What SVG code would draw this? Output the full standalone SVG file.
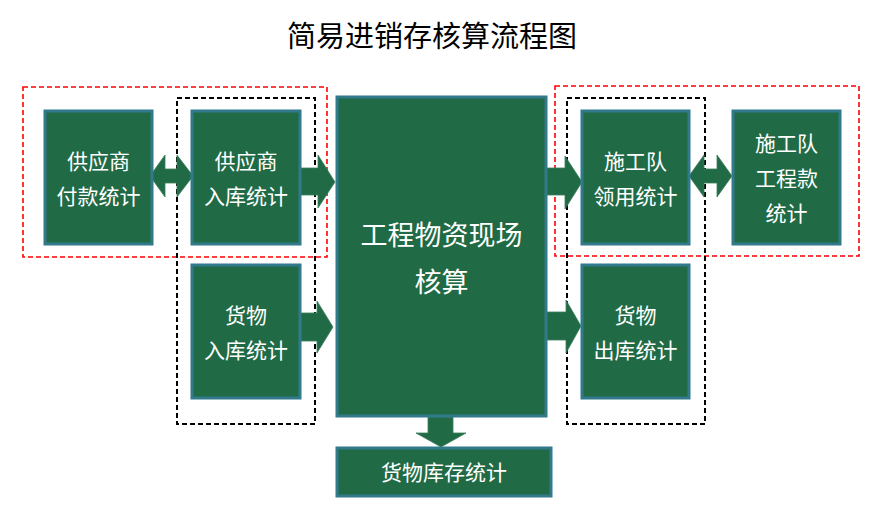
<svg xmlns="http://www.w3.org/2000/svg" width="873" height="529" viewBox="0 0 873 529">
<style>
.box{fill:#206b46;stroke:#317a8b;stroke-width:3}
.arr{fill:#206b46;stroke:#3d7f5e;stroke-width:0.8}
.t{font-family:"Microsoft YaHei","Noto Sans CJK SC",sans-serif;fill:#ffffff;text-anchor:middle}
.s{font-size:21px}
.red{fill:none;stroke:#ff0000;stroke-width:1.6;stroke-dasharray:5,3}
.blk{fill:none;stroke:#000000;stroke-width:2;stroke-dasharray:5,3}
</style>
<rect width="873" height="529" fill="#ffffff"/>
<text x="432" y="47" font-family="'Microsoft YaHei','Noto Sans CJK SC',sans-serif" font-size="29" text-anchor="middle" fill="#000000">简易进销存核算流程图</text>
<g id="groups">
<rect class="red" x="23" y="87" width="304" height="170"/>
<rect class="red" x="555" y="86" width="304" height="170"/>
<rect class="blk" x="177" y="98" width="138" height="326"/>
<rect class="blk" x="567" y="98" width="138" height="326"/>
</g>
<g id="connectors">
<path class="arr" d="M150,176 L165,155 L165,169 L177,169 L177,155 L193,176 L177,197 L177,183 L165,183 L165,197 Z"/>
<path class="arr" d="M689,176 L704,155 L704,169 L717,169 L717,155 L732,176 L717,197 L717,183 L704,183 L704,197 Z"/>
<path class="arr" d="M300,168 L318,168 L318,155 L335,182 L318,208 L318,195 L300,195 Z"/>
<path class="arr" d="M300,313 L317,313 L317,301 L333,327 L317,353 L317,341 L300,341 Z"/>
<path class="arr" d="M546,168 L565,168 L565,156 L582,182 L565,209 L565,195 L546,195 Z"/>
<path class="arr" d="M546,312 L566,312 L566,300 L581,326 L566,353 L566,340 L546,340 Z"/>
<path class="arr" d="M428,417 L453,417 L453,433 L466,433 L441,447 L416,433 L428,433 Z"/>
</g>
<g id="n1"><rect class="box" x="45" y="111" width="107" height="133"/>
<text class="t s" x="98.5" y="169">供应商</text><text class="t s" x="98.5" y="204">付款统计</text></g>
<g id="n2"><rect class="box" x="192" y="111" width="108" height="133"/>
<text class="t s" x="246" y="169">供应商</text><text class="t s" x="246" y="204">入库统计</text></g>
<g id="n3"><rect class="box" x="192" y="265" width="108" height="133"/>
<text class="t s" x="246" y="323">货物</text><text class="t s" x="246" y="358">入库统计</text></g>
<g id="n4"><rect class="box" x="337" y="97" width="209" height="319"/>
<text class="t" font-size="27" x="441.5" y="245">工程物资现场</text><text class="t" font-size="27" x="441.5" y="292">核算</text></g>
<g id="n5"><rect class="box" x="337" y="448" width="214" height="48"/>
<text class="t s" x="444" y="480">货物库存统计</text></g>
<g id="n6"><rect class="box" x="582" y="111" width="107" height="133"/>
<text class="t s" x="635.5" y="169">施工队</text><text class="t s" x="635.5" y="204">领用统计</text></g>
<g id="n7"><rect class="box" x="733" y="111" width="107" height="133"/>
<text class="t s" x="786.5" y="151">施工队</text><text class="t s" x="786.5" y="186">工程款</text><text class="t s" x="786.5" y="221">统计</text></g>
<g id="n8"><rect class="box" x="582" y="265" width="107" height="133"/>
<text class="t s" x="635.5" y="323">货物</text><text class="t s" x="635.5" y="358">出库统计</text></g>
</svg>
